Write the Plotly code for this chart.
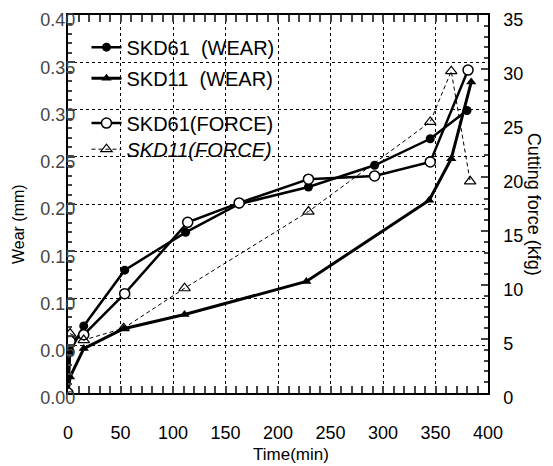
import plotly.graph_objects as go

# ---- data ----
skd61_wear_t = [0, 2, 15, 54, 112, 163, 229, 292, 345, 380]
skd61_wear = [0.0, 0.044, 0.071, 0.130, 0.170, 0.200, 0.218, 0.241, 0.269, 0.299]

skd11_wear_t = [0, 2, 15, 53, 111, 227, 344, 365, 384]
skd11_wear = [0.0, 0.017, 0.047, 0.068, 0.083, 0.118, 0.204, 0.248, 0.329]

skd61_force_t = [0, 2, 15, 54, 114, 163, 229, 292, 345, 381]
skd61_force = [0.0, 4.8, 5.4, 9.2, 15.8, 17.6, 19.8, 20.1, 21.4, 29.9]

skd11_force_t = [2, 15, 53, 111, 229, 345, 365, 383]
skd11_force = [5.5, 4.9, 6.0, 9.7, 16.8, 25.1, 29.8, 19.6]

x_ticks = [0, 50, 100, 150, 200, 250, 300, 350, 400]
wear_ticks = [0.00, 0.05, 0.10, 0.15, 0.20, 0.25, 0.30, 0.35, 0.40]
force_ticks = [0, 5, 10, 15, 20, 25, 30, 35]

FONT = "Liberation Sans, Arial, sans-serif"

fig = go.Figure()
fig.add_trace(go.Scatter(
    x=skd61_wear_t, y=skd61_wear, name="SKD61  (WEAR)", mode="lines+markers",
    line=dict(color="black", width=2.5), legend="legend",
    marker=dict(symbol="circle", size=9, color="black")))
fig.add_trace(go.Scatter(
    x=skd11_wear_t, y=skd11_wear, name="SKD11  (WEAR)", mode="lines+markers",
    line=dict(color="black", width=3), legend="legend2",
    marker=dict(symbol="triangle-up", size=9, color="black")))
fig.add_trace(go.Scatter(
    x=skd61_force_t, y=skd61_force, name="SKD61(FORCE)", mode="lines+markers",
    yaxis="y2", line=dict(color="black", width=2.5), legend="legend3",
    marker=dict(symbol="circle", size=10, color="white",
                line=dict(color="black", width=1.5))))
fig.add_trace(go.Scatter(
    x=skd11_force_t, y=skd11_force, name="<i>SKD11(FORCE)</i>", mode="lines+markers",
    yaxis="y2", line=dict(color="black", width=1, dash="4px,3px"), legend="legend4",
    marker=dict(symbol="triangle-up-open", size=10, color="black",
                line=dict(width=1.2))))

def leg(y):
    return dict(x=0.044, y=y, xanchor="left", yanchor="middle",
                bgcolor="rgba(0,0,0,0)", font=dict(size=20, family=FONT),
                itemwidth=30)

GRID = dict(showgrid=True, gridcolor="black", griddash="dot", gridwidth=1.2)

# the page body adds an 8px offset, so the figure is 8px smaller than the window
fig.update_layout(
    width=545, height=458,
    margin=dict(l=60, r=65, t=7, b=73, autoexpand=False),
    paper_bgcolor="white", plot_bgcolor="white",
    font=dict(family=FONT, color="black", size=17),
    showlegend=True,
    legend=leg(0.915), legend2=leg(0.833), legend3=leg(0.714), legend4=leg(0.645),
    xaxis=dict(range=[0, 400], tickvals=x_ticks, ticks="inside", ticklen=7,
               tickwidth=1.5, showline=True, linecolor="black", linewidth=1.5,
               mirror="allticks", zeroline=False, automargin=False,
               ticklabelstandoff=23, tickfont=dict(size=18),
               ticklabeloverflow="allow",
               minor=dict(dtick=10, ticks="inside", ticklen=4, showgrid=False),
               **GRID),
    yaxis=dict(range=[0, 0.40], tickvals=wear_ticks, tickformat=".2f",
               ticks="inside", ticklen=7, tickwidth=1.5, showline=True,
               linecolor="black", linewidth=1.5, zeroline=False, automargin=False,
               ticklabelposition="inside", ticklabelstandoff=-34,
               ticklabelshift=5, ticklabeloverflow="allow",
               tickfont=dict(size=18),
               minor=dict(dtick=0.01, ticks="inside", ticklen=4, showgrid=False),
               **GRID),
    yaxis2=dict(range=[0, 35], tickvals=force_ticks, overlaying="y", side="right",
                ticks="inside", ticklen=7, tickwidth=1.5, showline=True,
                linecolor="black", linewidth=1.5, showgrid=False, zeroline=False,
                automargin=False, ticklabelstandoff=10, ticklabelshift=5,
                ticklabeloverflow="allow", tickfont=dict(size=18),
                minor=dict(dtick=1, ticks="inside", ticklen=4, showgrid=False)),
    annotations=[
        dict(text="Time(min)", xref="paper", yref="paper", x=0.53, y=-0.163,
             xanchor="center", yanchor="middle", showarrow=False,
             font=dict(size=17)),
        dict(text="Wear (mm)", xref="paper", yref="paper", x=-0.119, y=0.447,
             xanchor="center", yanchor="middle", textangle=-90, showarrow=False,
             font=dict(size=16)),
        dict(text="Cutting force (kfg)", xref="paper", yref="paper", x=1.11, y=0.50,
             xanchor="center", yanchor="middle", textangle=90, showarrow=False,
             font=dict(size=18)),
    ],
)

fig.write_html("out.html")
